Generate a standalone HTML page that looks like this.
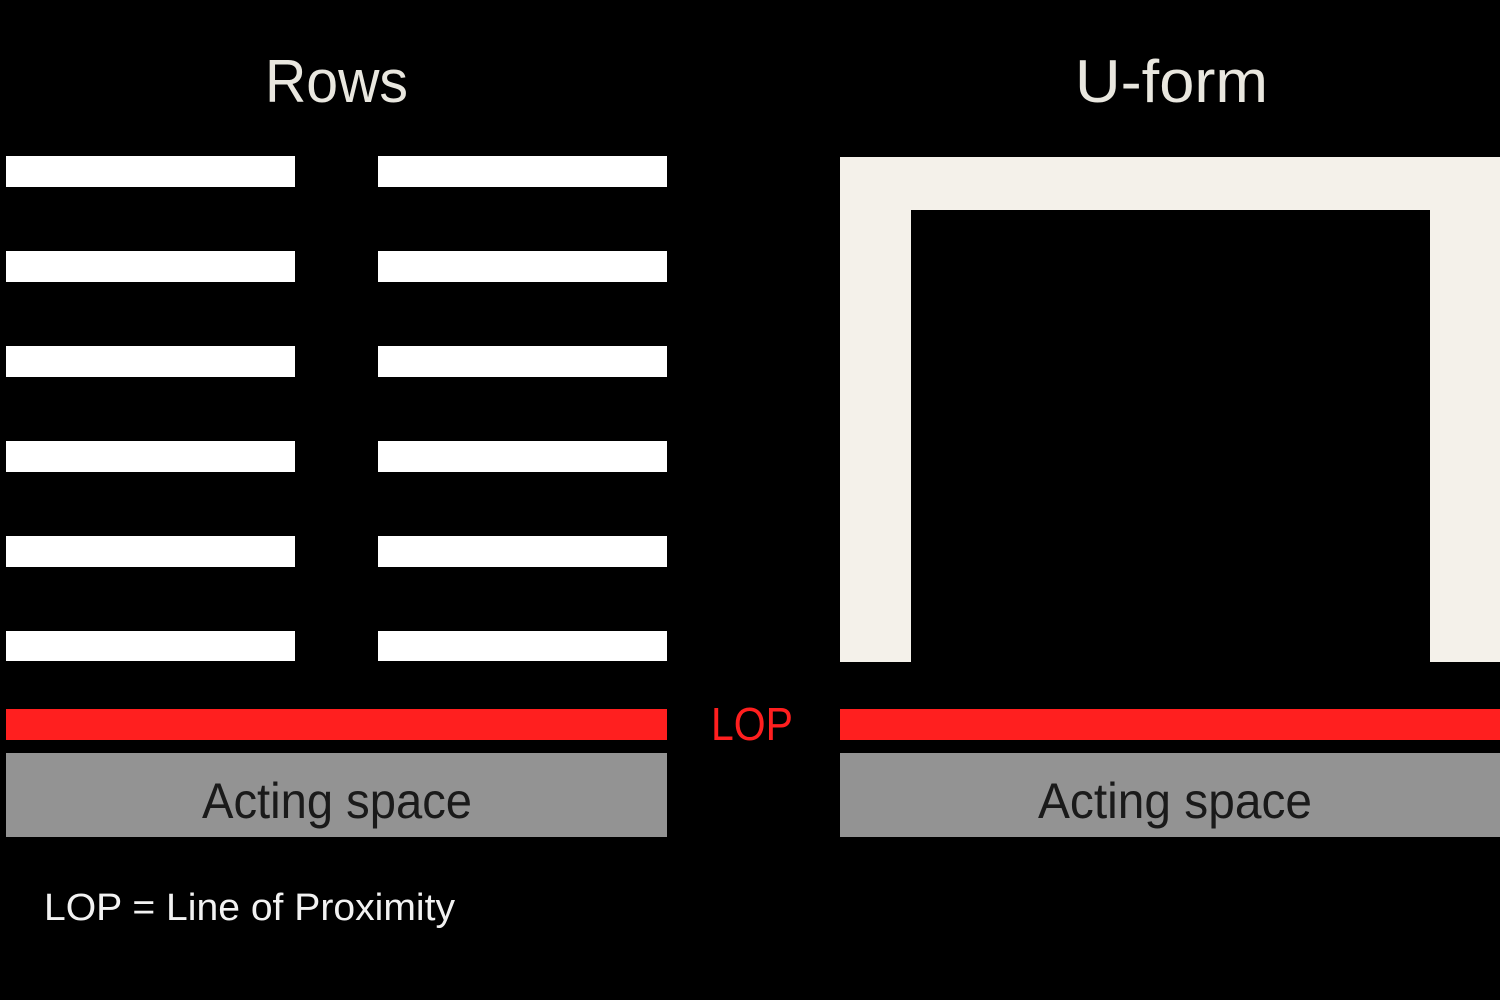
<!DOCTYPE html>
<html>
<head>
<meta charset="utf-8">
<style>
  html, body { margin: 0; padding: 0; background: #000; }
  body { width: 1500px; height: 1000px; overflow: hidden; }
  svg { display: block; }
  text { font-family: "Liberation Sans", "DejaVu Sans", sans-serif; }
</style>
</head>
<body>
<svg width="1500" height="1000" viewBox="0 0 1500 1000" xmlns="http://www.w3.org/2000/svg">
  <rect x="0" y="0" width="1500" height="1000" fill="#000"/>

  <!-- Titles -->
  <text x="265" y="102" font-size="60" fill="#e9e7df" textLength="143" lengthAdjust="spacingAndGlyphs">Rows</text>
  <text x="1075" y="102" font-size="60" fill="#e9e7df" textLength="193" lengthAdjust="spacingAndGlyphs">U-form</text>

  <!-- Rows: left column -->
  <g fill="#ffffff">
    <rect x="6" y="156" width="289" height="31"/>
    <rect x="6" y="251" width="289" height="31"/>
    <rect x="6" y="346" width="289" height="31"/>
    <rect x="6" y="441" width="289" height="31"/>
    <rect x="6" y="536" width="289" height="31"/>
    <rect x="6" y="631" width="289" height="30"/>
    <!-- right column -->
    <rect x="378" y="156" width="289" height="31"/>
    <rect x="378" y="251" width="289" height="31"/>
    <rect x="378" y="346" width="289" height="31"/>
    <rect x="378" y="441" width="289" height="31"/>
    <rect x="378" y="536" width="289" height="31"/>
    <rect x="378" y="631" width="289" height="30"/>
  </g>

  <!-- U-form -->
  <path d="M840 157 H1500 V662 H1430 V210 H911 V662 H840 Z" fill="#f4f1ea"/>

  <!-- LOP red lines -->
  <rect x="6" y="709" width="661" height="31" fill="#ff1f1f"/>
  <rect x="840" y="709" width="660" height="31" fill="#ff1f1f"/>
  <text x="711" y="740" font-size="46" fill="#ff1f1f" textLength="82" lengthAdjust="spacingAndGlyphs">LOP</text>

  <!-- Acting space -->
  <rect x="6" y="753" width="661" height="84" fill="#939393"/>
  <rect x="840" y="753" width="660" height="84" fill="#939393"/>
  <text x="202" y="818" font-size="50" fill="#1a1a1a" textLength="270" lengthAdjust="spacingAndGlyphs">Acting space</text>
  <text x="1038" y="818" font-size="50" fill="#1a1a1a" textLength="274" lengthAdjust="spacingAndGlyphs">Acting space</text>

  <!-- Legend -->
  <text x="44" y="920" font-size="38" fill="#f2f2f2" textLength="411" lengthAdjust="spacingAndGlyphs">LOP = Line of Proximity</text>
</svg>
</body>
</html>
